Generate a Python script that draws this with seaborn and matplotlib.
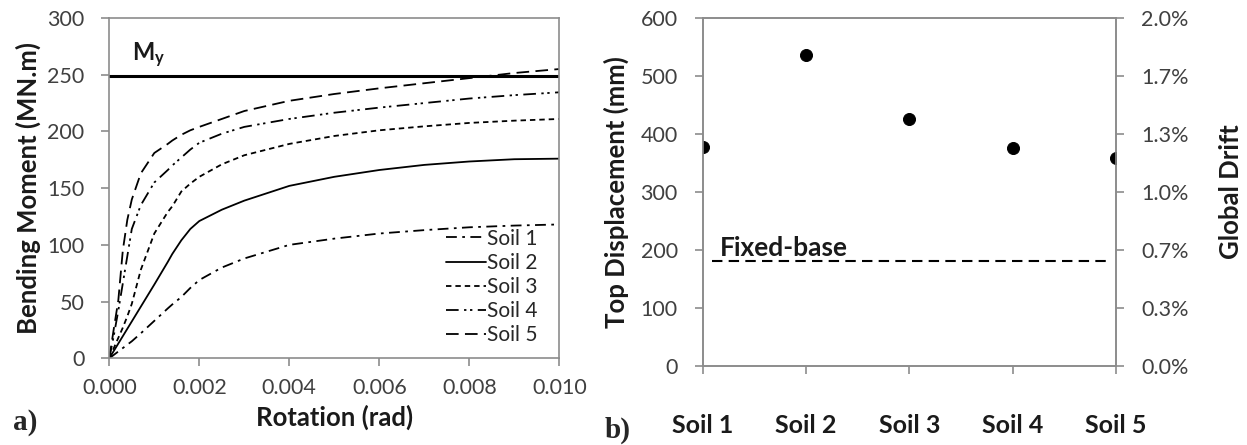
import numpy as np
import pandas as pd
import matplotlib
matplotlib.use("Agg")
import matplotlib.pyplot as plt
import seaborn as sns
from matplotlib.ticker import PercentFormatter, FormatStrFormatter, MultipleLocator

# ---------------- data ----------------
rotation = [0, 0.0001, 0.0002, 0.0003, 0.0004, 0.0005, 0.0007, 0.0010, 0.0013, 0.0014,
            0.0016, 0.0018, 0.0020, 0.0025, 0.0030, 0.0040, 0.0050, 0.0060, 0.0070,
            0.0080, 0.0090, 0.0100]
soil1_moment = [0, 3, 6, 9, 12, 15, 22, 33, 44, 47.5, 54, 62, 69, 80, 88, 100, 105.5,
                110, 113, 115.5, 117, 118]
soil2_moment = [0, 6.5, 13, 19.5, 26, 32.5, 45.5, 65, 85, 92, 104, 114, 121, 131, 139,
                152, 160, 166, 170.5, 173.5, 175.5, 176]
soil3_moment = [0, 9, 18, 27, 37, 48, 78, 110, 129, 134, 147, 154, 160, 171, 179, 189,
                196, 201, 204.5, 207.5, 209.5, 211]
soil4_moment = [0, 20, 42, 66, 90, 114, 135, 155, 166, 170, 177, 184, 190, 198, 204, 211,
                216.5, 221, 225, 229, 232, 234.5]
soil5_moment = [0, 26, 51, 95, 122, 140, 163, 181, 189, 192, 197, 201, 204, 211, 218,
                227, 233, 238, 242.5, 247, 251.5, 255]
soil_names = ["Soil 1", "Soil 2", "Soil 3", "Soil 4", "Soil 5"]
yield_moment = 249

top_disp_mm = [378, 537, 425, 375, 358]
fixed_base_mm = 181

# ---------------- style ----------------
sns.set_theme(style="white")
plt.rcParams["font.family"] = ["Lato", "DejaVu Sans"]
plt.rcParams["mathtext.fontset"] = "custom"
plt.rcParams["mathtext.rm"] = "Lato"
plt.rcParams["mathtext.bf"] = "Lato:bold"

SPINE = "#8c8c8c"
TICKC = "#404040"
LABC = "#1a1a1a"
TICK_FS = 15.5
LAB_FS = 18.5

fig = plt.figure(figsize=(12.47, 4.45), dpi=100)
ax1 = fig.add_axes([109.3 / 1247, 1 - 358.3 / 445, 450 / 1247, 340.3 / 445])
ax2 = fig.add_axes([702.7 / 1247, 1 - 366 / 445, 413.3 / 1247, 348 / 445])

# ---------------- panel a ----------------
all_moments = [soil1_moment, soil2_moment, soil3_moment, soil4_moment, soil5_moment]
df = pd.DataFrame({
    "rotation": rotation * 5,
    "moment": sum(all_moments, []),
    "soil": np.repeat(soil_names, len(rotation)),
})
dashes = {
    "Soil 1": (6, 3, 1.5, 3),
    "Soil 2": "",
    "Soil 3": (3, 2.2),
    "Soil 4": (7, 3, 1.3, 2, 1.3, 3),
    "Soil 5": (7, 3.5),
}
palette = {s: "black" for s in soil_names}
sns.lineplot(data=df, x="rotation", y="moment", hue="soil", style="soil",
             palette=palette, dashes=dashes, linewidth=1.3, ax=ax1,
             estimator=None, sort=False)
ax1.axhline(yield_moment, color="black", linewidth=2.2)
ax1.text(0.0005, 267, r"$\mathbf{M_y}$", fontsize=17, color=LABC, va="center", ha="left")

ax1.set_xlim(0, 0.010)
ax1.set_ylim(0, 300)
ax1.xaxis.set_major_locator(MultipleLocator(0.002))
ax1.xaxis.set_major_formatter(FormatStrFormatter("%.3f"))
ax1.yaxis.set_major_locator(MultipleLocator(50))
ax1.set_xlabel("Rotation (rad)", fontsize=LAB_FS, fontweight="bold", color=LABC)
ax1.set_ylabel("Bending Moment (MN.m)", fontsize=LAB_FS, fontweight="bold", color=LABC)
ax1.xaxis.set_label_coords(0.5, -0.137)
ax1.yaxis.set_label_coords(-0.152, 0.5)

handles, labels = ax1.get_legend_handles_labels()
ax1.legend(handles, labels, loc="lower right", bbox_to_anchor=(0.985, -0.005),
           frameon=False, fontsize=15, handlelength=1.9, handletextpad=0.08,
           labelspacing=0.2, borderpad=0.2, labelcolor="#262626")

# ---------------- panel b ----------------
sns.scatterplot(x=soil_names, y=top_disp_mm, color="black", s=75, edgecolor="black",
                ax=ax2, zorder=3)
ax2.axhline(fixed_base_mm, xmin=0.022, xmax=0.982, color="black", linewidth=1.5,
            linestyle=(0, (5, 3)))
ax2.text(0.17, 204, "Fixed-base", fontsize=19, fontweight="bold", color=LABC,
         ha="left", va="center")
ax2.set_xlim(0, 4)
ax2.set_ylim(0, 600)
ax2.yaxis.set_major_locator(MultipleLocator(100))
ax2.set_ylabel("Top Displacement (mm)", fontsize=LAB_FS, fontweight="bold", color=LABC)
ax2.yaxis.set_label_coords(-0.178, 0.5)
ax2.set_xlabel("")

ax2r = ax2.twinx()
ax2r.set_ylim(0, 0.02)
ax2r.set_yticks(np.linspace(0, 0.02, 7))
ax2r.yaxis.set_major_formatter(PercentFormatter(xmax=1, decimals=1))
ax2r.set_ylabel("Global Drift", fontsize=LAB_FS, fontweight="bold", color=LABC)
ax2r.yaxis.set_label_coords(1.25, 0.5)

for ax in (ax1, ax2, ax2r):
    for sp in ax.spines.values():
        sp.set_color(SPINE)
        sp.set_linewidth(1.2)
    ax.tick_params(axis="both", direction="out", length=5.5, width=1.2, color=SPINE,
                   labelsize=TICK_FS, labelcolor=TICKC, pad=9)
    ax.tick_params(axis="y", pad=12.5)
ax1.tick_params(bottom=True, left=True)
ax2.tick_params(axis="x", bottom=True, pad=29, labelsize=18, labelcolor=LABC)
ax2.tick_params(axis="y", left=True)
ax2r.tick_params(axis="y", right=True)
for lab in ax2.get_xticklabels():
    lab.set_fontweight("bold")

fig.text(13 / 1247, 1 - 423 / 445, "a)", fontsize=21, fontweight="bold",
         family="Liberation Serif", va="center", ha="left")
fig.text(605 / 1247, 1 - 430 / 445, "b)", fontsize=21, fontweight="bold",
         family="Liberation Serif", va="center", ha="left")

fig.savefig("out.png", dpi=100, facecolor="white")
